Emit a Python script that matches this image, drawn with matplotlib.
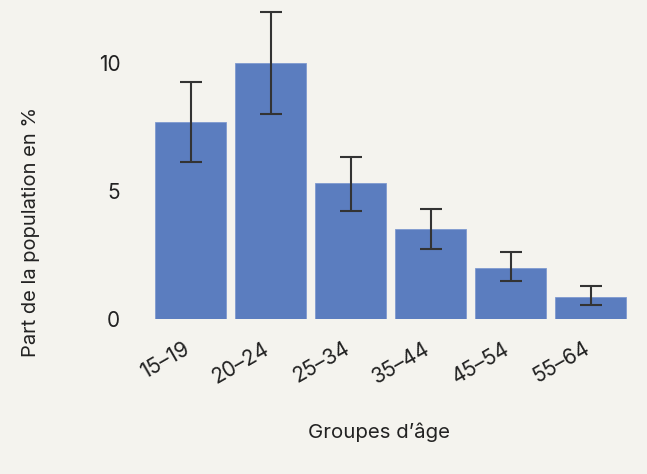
import numpy as np
import matplotlib
matplotlib.use("Agg")
import matplotlib.pyplot as plt
import matplotlib.transforms as mtransforms

plt.rcParams['font.family'] = ['Inter', 'DejaVu Sans']

# données
groupes = ['15–19', '20–24', '25–34', '35–44', '45–54', '55–64']
part = [7.7, 10.0, 5.3, 3.5, 2.0, 0.85]
err_haut = [9.25, 12.0, 6.33, 4.3, 2.62, 1.28]
err_bas = [6.13, 8.02, 4.22, 2.73, 1.48, 0.55]

bg = '#f4f3ee'
bleu = '#5b7dbf'
texte = '#222222'

fig = plt.figure(figsize=(6.47, 4.74), dpi=100, facecolor=bg)
ax = fig.add_axes([0.233, 0.327, 0.742, 0.659])
ax.set_facecolor(bg)

x = np.arange(len(groupes))
yerr = [np.array(part) - np.array(err_bas), np.array(err_haut) - np.array(part)]
ax.bar(x, part, width=0.89, color=bleu, edgecolor='#7f9ad0', linewidth=0.6)
ax.errorbar(x, part, yerr=yerr, fmt='none', ecolor='#333333', elinewidth=1.5,
            capsize=8, capthick=1.5)

ax.set_xlim(-0.5, 5.5)
ax.set_ylim(0, 12.2)
ax.set_yticks([0, 5, 10])
ax.set_xticks(x)
ax.set_xticklabels(groupes, rotation=30, ha='right', rotation_mode='anchor')
for s in ax.spines.values():
    s.set_visible(False)
ax.tick_params(axis='y', length=0, pad=22, labelsize=15, labelcolor=texte)
ax.tick_params(axis='x', length=0, pad=14, labelsize=15, labelcolor=texte)

# décaler un peu les étiquettes vers la gauche
decal = mtransforms.ScaledTranslation(-8 / 100, 0, fig.dpi_scale_trans)
for lab in ax.get_xticklabels():
    lab.set_transform(lab.get_transform() + decal)

ax.set_ylabel('Part de la population en %', fontsize=14.5, color=texte)
ax.yaxis.set_label_coords(-0.23, 0.28)
ax.set_xlabel("Groupes d’âge", fontsize=14.7, color=texte)
ax.xaxis.set_label_coords(0.475, -0.33)

fig.savefig('out.png', dpi=100, facecolor=bg)
